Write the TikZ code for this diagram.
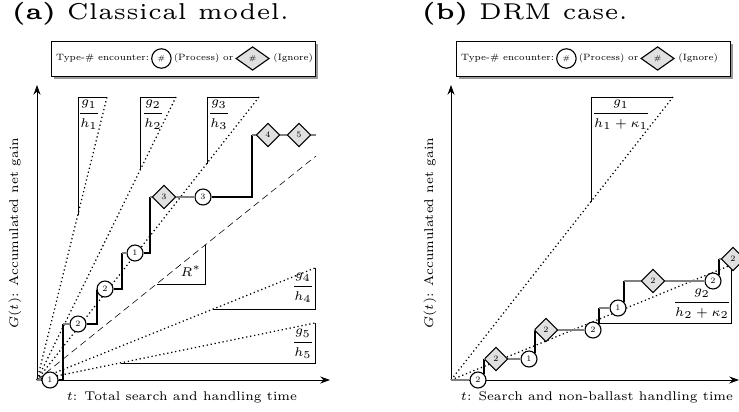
\documentclass[tikz,border=0pt]{standalone}
\usepackage{amsmath}
\usepackage{amsfonts}
\usetikzlibrary{positioning,shapes.geometric,shadows,arrows.meta}

\begin{document}
\begin{tikzpicture}[x=0.72pt, y=-0.72pt, thick,
  proc/.style = {draw, circle, fill=white, inner sep=0pt, minimum size=11.5pt, font=\fontsize{6}{6}\selectfont},
  skip/.style = {draw, diamond, fill=black!12, inner sep=0pt, minimum size=17pt, font=\fontsize{6}{6}\selectfont},
  search/.style = {draw=black!50, line width=1.6pt},
  handle/.style = {draw=black, line width=1.8pt},
  ray/.style = {dotted, line width=0.9pt},
  slope/.style = {thin},
  lbl/.style = {font=\fontsize{6}{7}\selectfont, scale=1.52, transform shape},
  ttl/.style = {font=\fontsize{5}{6}\selectfont, scale=3.3, transform shape, inner sep=0pt},
  legtxt/.style = {font=\fontsize{6}{7}\selectfont, scale=1.1, transform shape, inner sep=1pt},
  legend/.style = {draw, fill=white, thin, minimum height=25pt, drop shadow={shadow xshift=2pt, shadow yshift=-2pt, opacity=0.8}},
  axis/.style = {-{Stealth[length=7pt,width=5pt]}, semithick}]
\useasboundingbox (0,0) rectangle (739,412);

\node[ttl, anchor=base west] (tA) at (10,20) {\textbf{(a)} Classical model.};
\node[ttl, anchor=base west] (tB) at (420,20) {\textbf{(b)} DRM case.};

\node[legend, minimum width=190pt] (legA) at (183,58.5) {};
\node[legtxt, anchor=west] (legAa) at (54,58.5) {Type-\# encounter:};
\node[proc, minimum size=14pt, font=\tiny, right=0pt of legAa] (legAb) {\#};
\node[legtxt, right=0pt of legAb] (legAc) {(Process) or};
\node[skip, minimum width=24pt, minimum height=17pt, font=\tiny, right=0pt of legAc] (legAd) {\#};
\node[legtxt, right=1pt of legAd] (legAe) {(Ignore)};

\node[legend, minimum width=197pt] (legB) at (593,58.5) {};
\node[legtxt, anchor=west] (legBa) at (459,58.5) {Type-\# encounter:};
\node[proc, minimum size=14pt, font=\tiny, right=0pt of legBa] (legBb) {\#};
\node[legtxt, right=0pt of legBb] (legBc) {(Process) or};
\node[skip, minimum width=24pt, minimum height=17pt, font=\tiny, right=0pt of legBc] (legBd) {\#};
\node[legtxt, right=1pt of legBd] (legBe) {(Ignore)};

\coordinate (oA) at (37,380);
\coordinate (xA) at (330,380);
\coordinate (yA) at (37,85);
\draw[axis] (oA) -- (xA);
\draw[axis] (oA) -- (yA);
\node[lbl, rotate=90] (ylA) at (15,233) {$G(t)$: Accumulated net gain};
\node[lbl] (xlA) at (182,397) {$t$: Total search and handling time};

\coordinate (rA1) at (107,97);
\coordinate (rA2) at (176,97);
\coordinate (rA3) at (259,97);
\coordinate (rA4) at (315,268);
\coordinate (rA5) at (315,323);
\coordinate (rAs) at (316,156);
\draw[ray] (oA) -- (rA1);
\draw[ray] (oA) -- (rA2);
\draw[ray] (oA) -- (rA3);
\draw[ray] (oA) -- (rA4);
\draw[ray] (oA) -- (rA5);
\draw[dash pattern=on 5pt off 3pt, thin] (oA) -- (rAs);

\draw[slope] (78,215) |- (rA1);
\draw[slope] (140,170) |- (rA2);
\draw[slope] (207,164) |- (rA3);
\draw[slope] (213,309) -| (rA4);
\draw[slope] (121,363) -| (rA5);
\draw[slope] (157,284) -| (205,245);
\node[lbl] (fA1) at (89,115) {$\dfrac{g_1}{h_1}$};
\node[lbl] (fA2) at (153,115) {$\dfrac{g_2}{h_2}$};
\node[lbl] (fA3) at (219,115) {$\dfrac{g_3}{h_3}$};
\node[lbl] (fA4) at (303,288) {$\dfrac{g_4}{h_4}$};
\node[lbl] (fA5) at (303,344) {$\dfrac{g_5}{h_5}$};
\node[lbl] (rA) at (191,271) {$R^*$};

\node[proc] (a1) at (50,380) {1};
\node[proc] (a2) at (78,324) {2};
\node[proc] (a3) at (105,289) {2};
\node[proc] (a4) at (135,253) {1};
\node[skip] (a5) at (164,197) {3};
\node[proc] (a6) at (203,197) {3};
\node[skip] (a7) at (268,135) {4};
\node[skip] (a8) at (299,135) {5};
\coordinate (kA0) at (63,324);
\coordinate (kA1) at (97,289);
\coordinate (kA2) at (122,253);
\coordinate (kA3) at (150,197);
\coordinate (kA4) at (252,135);
\coordinate (eA) at (316,135);
\draw[search] (oA) -- (a1);
\draw[handle] (a1) -| (kA0);
\draw[search] (kA0) -- (a2);
\draw[handle] (a2) -| (kA1);
\draw[search] (kA1) -- (a3);
\draw[handle] (a3) -| (kA2);
\draw[search] (kA2) -- (a4);
\draw[handle] (a4) -| (kA3);
\draw[search] (kA3) -- (a5);
\draw[search] (a5) -- (a6);
\draw[handle] (a6) -| (kA4);
\draw[search] (kA4) -- (a7);
\draw[search] (a7) -- (a8);
\draw[search] (a8) -- (eA);

\coordinate (oB) at (451,380);
\coordinate (xB) at (739,380);
\coordinate (yB) at (451,85);
\draw[axis] (oB) -- (xB);
\draw[axis] (oB) -- (yB);
\node[lbl, rotate=90] (ylB) at (430,233) {$G(t)$: Accumulated net gain};
\node[lbl] (xlB) at (597,397) {$t$: Search and non-ballast handling time};

\coordinate (rB1) at (673,97);
\coordinate (rB2) at (731,265);
\draw[ray] (oB) -- (rB1);
\draw[ray] (oB) -- (rB2);
\draw[slope] (591,202) |- (rB1);
\draw[slope] (590,323) -| (rB2);
\node[lbl] (fB1) at (621,115) {$\dfrac{g_1}{h_1+\kappa_1}$};
\node[lbl] (fB2) at (702,304) {$\dfrac{g_2}{h_2+\kappa_2}$};

\node[proc] (b1) at (478,380) {2};
\node[skip] (b2) at (496,359) {2};
\node[proc] (b3) at (529,359) {1};
\node[skip] (b4) at (546,330) {2};
\node[proc] (b5) at (593,330) {2};
\node[proc] (b6) at (618,308) {1};
\node[skip] (b7) at (653,281) {2};
\node[proc] (b8) at (713,281) {2};
\node[skip] (b9) at (733,259) {2};
\draw[search] (oB) -- (b1);
\draw[handle] (b1.north east) -- (b1.north east |- b2);
\draw[search] (b1.north east |- b2) -- (b2);
\draw[search] (b2) -- (b3);
\draw[handle] (b3.north east) -- (b3.north east |- b4);
\draw[search] (b3.north east |- b4) -- (b4);
\draw[search] (b4) -- (b5);
\draw[handle] (b5.north east) -- (b5.north east |- b6);
\draw[search] (b5.north east |- b6) -- (b6);
\draw[handle] (b6.north east) -- (b6.north east |- b7);
\draw[search] (b6.north east |- b7) -- (b7);
\draw[search] (b7) -- (b8);
\draw[handle] (b8.north east) -- (b8.north east |- b9);
\draw[search] (b8.north east |- b9) -- (b9);
\end{tikzpicture}
\end{document}
